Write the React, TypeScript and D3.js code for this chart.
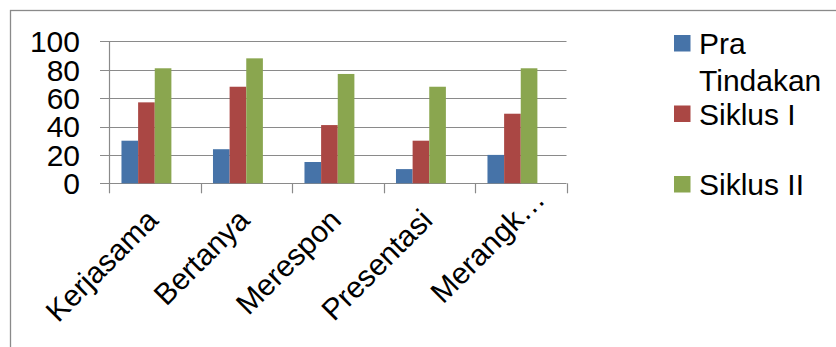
import React from "react";
import * as d3 from "d3";

const categories = ["Kerjasama", "Bertanya", "Merespon", "Presentasi", "Merangk…"];
const seriesNames = ["Pra Tindakan", "Siklus I", "Siklus II"];
const legendLines = [["Pra", "Tindakan"], ["Siklus I"], ["Siklus II"]];
const praTindakan = [30, 24, 15, 10, 20];
const siklusI = [57, 68, 41, 30, 49];
const siklusII = [81, 88, 77, 68, 81];
const seriesValues = [praTindakan, siklusI, siklusII];
const yTicks = [0, 20, 40, 60, 80, 100];
const colors = ["#4673A8", "#AA4744", "#8AA64F"];

const W = 836;
const H = 347;
const FONT = "'Liberation Sans', Arial, sans-serif";

export default function App() {
  const x0 = d3.scaleBand<string>().domain(categories).range([109, 566.5]).padding(0);
  // 4 slots per category (the 4th is an empty series), Excel gap width 150%
  const slots = [...seriesNames, "empty"];
  const x1 = d3.scaleBand<string>().domain(slots).range([0, x0.bandwidth()]).paddingInner(0).paddingOuter(0.75);
  const y = d3.scaleLinear().domain([0, 100]).range([183.3, 41.3]);
  const grid = "#8a8a8a";
  const boundaries = d3.range(categories.length + 1).map((i) => 109 + i * x0.step());

  return (
    <svg width={W} height={H} style={{ position: "absolute", left: 0, top: 0, background: "#fff" }}>
      <rect x={0} y={0} width={W} height={H} fill="#fff" />
      <rect x={10.5} y={10.5} width={1200} height={1200} fill="none" stroke={grid} strokeWidth={1.3} />
      {/* gridlines */}
      {yTicks.map((t) => (
        <line key={t} x1={100} x2={566.5} y1={Math.round(y(t)) + 0.5} y2={Math.round(y(t)) + 0.5} stroke={grid} strokeWidth={1.2} />
      ))}
      <line x1={109.5} x2={109.5} y1={y(100)} y2={y(0)} stroke={grid} strokeWidth={1.2} />
      {boundaries.map((b, i) => (
        <line key={i} x1={Math.round(b) + 0.5} x2={Math.round(b) + 0.5} y1={y(0)} y2={y(0) + 10} stroke={grid} strokeWidth={1.2} />
      ))}
      {/* bars */}
      {categories.map((c, ci) => (
        <g key={c} transform={`translate(${x0(c)},0)`}>
          {seriesNames.map((s, si) => {
            const v = seriesValues[si][ci];
            return (
              <rect
                key={s}
                x={x1(s)}
                y={y(v)}
                width={x1.bandwidth()}
                height={y(0) - y(v)}
                fill={colors[si]}
              />
            );
          })}
        </g>
      ))}
      {/* y labels */}
      {yTicks.map((t) => (
        <text key={t} x={80} y={y(t)} dy="0.36em" textAnchor="end" fontFamily={FONT} fontSize={30} fill="#000">
          {t}
        </text>
      ))}
      {/* x labels */}
      {categories.map((c) => {
        const cx = (x0(c) as number) + x0.bandwidth() / 2;
        const shift = c.endsWith("…") ? 21 : 0;
        const ax = cx + 5 + shift;
        const ay = 222 - shift;
        return (
          <text
            key={c}
            x={0}
            y={0}
            transform={`translate(${ax},${ay}) rotate(-45)`}
            textAnchor="end"
            fontFamily={FONT}
            fontSize={30}
            fill="#000"
          >
            {c}
          </text>
        );
      })}
      {/* legend */}
      {seriesNames.map((s, i) => {
        const top = 35 + i * 70.5;
        return (
          <g key={s}>
            <rect x={674} y={top} width={16.5} height={16.5} fill={colors[i]} />
            {legendLines[i].map((ln, li) => (
              <text key={li} x={699} y={top + 19 + li * 37} fontFamily={FONT} fontSize={30} fill="#000">
                {ln}
              </text>
            ))}
          </g>
        );
      })}
    </svg>
  );
}
